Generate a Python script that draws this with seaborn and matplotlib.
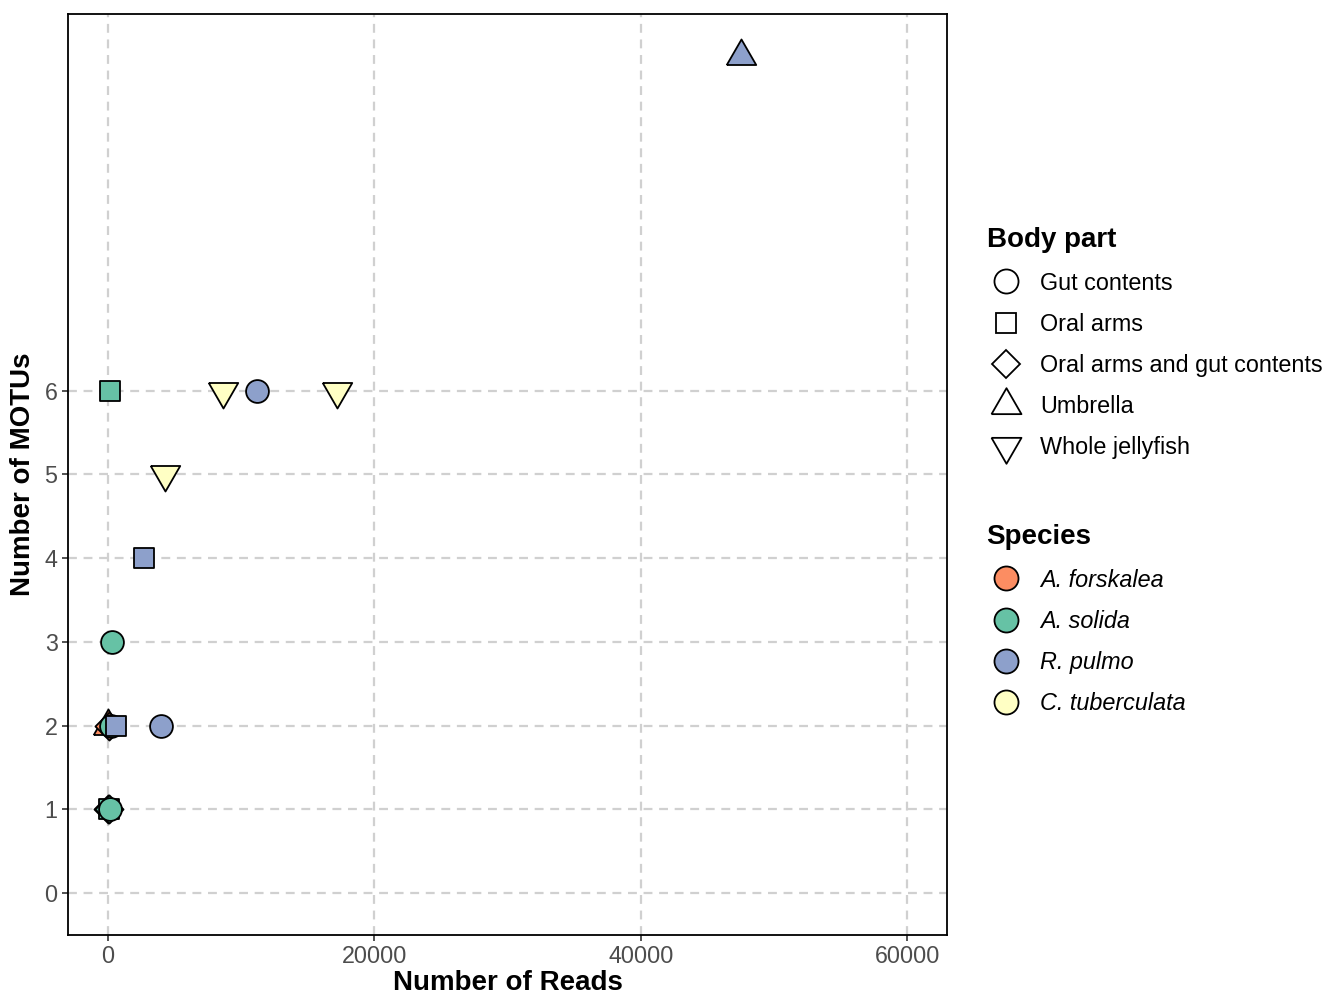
"""
Number of MOTUs against number of reads, by species and body part.
"""

import pandas as pd
import matplotlib.pyplot as plt
import seaborn as sns
from matplotlib.lines import Line2D

species = ["A. forskalea", "A. forskalea", "A. forskalea",
           "A. solida", "A. solida", "A. solida", "A. solida", "A. solida", "A. solida",
           "R. pulmo", "R. pulmo", "R. pulmo", "R. pulmo", "R. pulmo",
           "C. tuberculata", "C. tuberculata", "C. tuberculata"]
body_part = ["Umbrella", "Oral arms and gut contents", "Oral arms and gut contents",
             "Oral arms", "Oral arms and gut contents", "Gut contents", "Gut contents",
             "Gut contents", "Oral arms",
             "Oral arms", "Gut contents", "Oral arms", "Gut contents", "Umbrella",
             "Whole jellyfish", "Whole jellyfish", "Whole jellyfish"]
reads = [20, 60, 0,
         60, 100, 230, 120, 300, 150,
         600, 3950, 2700, 11200, 47500,
         4300, 8600, 17200]
motus = [2, 2, 1,
         1, 1, 2, 1, 3, 6,
         2, 2, 4, 6, 10,
         5, 6, 6]

species_order = ["A. forskalea", "A. solida", "R. pulmo", "C. tuberculata"]
species_colors = ["#FC8D62", "#66C2A5", "#8DA0CB", "#FFFFC4"]
part_order = ["Gut contents", "Oral arms", "Oral arms and gut contents",
              "Umbrella", "Whole jellyfish"]

TRI_UP = [(-0.5, -0.2887), (0.5, -0.2887), (0.0, 0.5774), (-0.5, -0.2887)]
TRI_DOWN = [(-0.5, 0.2887), (0.5, 0.2887), (0.0, -0.5774), (-0.5, 0.2887)]
part_markers = {"Gut contents": "o", "Oral arms": "s",
                "Oral arms and gut contents": "D",
                "Umbrella": TRI_UP, "Whole jellyfish": TRI_DOWN}
part_sizes = {"Gut contents": 270, "Oral arms": 195,
              "Oral arms and gut contents": 205,
              "Umbrella": 600, "Whole jellyfish": 600}
legend_sizes = {"Gut contents": 300, "Oral arms": 200,
                "Oral arms and gut contents": 215,
                "Umbrella": 620, "Whole jellyfish": 620}


def scatter_plot(df):
    """
    Scatter of reads vs MOTUs, shape by body part, fill by species.
    """
    sns.set_theme(style="white")
    plt.rcParams["font.family"] = ["Liberation Sans", "DejaVu Sans"]

    fig = plt.figure(figsize=(13.26, 9.97), dpi=100)
    ax = fig.add_axes([0.0513, 0.0622, 0.6629, 0.9238])

    palette = dict(zip(species_order, species_colors))

    # draw row by row so overlap order follows the data
    for i, row in df.iterrows():
        sns.scatterplot(
            data=df.iloc[[i]],
            x="reads",
            y="motus",
            hue="species",
            palette=palette,
            marker=part_markers[row["body_part"]],
            s=part_sizes[row["body_part"]],
            edgecolor="black",
            linewidth=1.3,
            legend=False,
            zorder=3,
            ax=ax
        )

    ax.set_xlim(-3000, 63000)
    ax.set_ylim(-0.5, 10.5)
    ax.set_xticks([0, 20000, 40000, 60000])
    ax.set_yticks([0, 1, 2, 3, 4, 5, 6])
    ax.grid(True, linestyle=(0, (4, 3)), color="#D0D0D0", linewidth=1.6)
    ax.set_axisbelow(True)

    for spine in ax.spines.values():
        spine.set_color("black")
        spine.set_linewidth(1.3)

    ax.tick_params(axis="both", labelsize=16.8, labelcolor="#4D4D4D",
                   color="#333333", length=4, width=1.2, direction="out",
                   bottom=True, left=True)

    ax.set_xlabel("Number of Reads", fontsize=20, fontweight="bold",
                  color="black", labelpad=1.5)
    ax.set_ylabel("Number of MOTUs", fontsize=20, fontweight="bold",
                  color="black", labelpad=6)

    shape_handles = [
        Line2D([], [], linestyle="none", marker=part_markers[p],
               markersize=(legend_sizes[p] ** 0.5), markerfacecolor="white",
               markeredgecolor="black", markeredgewidth=1.3, label=p)
        for p in part_order
    ]
    color_handles = [
        Line2D([], [], linestyle="none", marker="o", markersize=17.3,
               markerfacecolor=c, markeredgecolor="black",
               markeredgewidth=1.3, label=s)
        for s, c in zip(species_order, species_colors)
    ]

    for handles, title, top in [(shape_handles, "Body part", 0.772),
                                (color_handles, "Species", 0.474)]:
        leg = fig.legend(
            handles=handles, title=title,
            loc="upper left", bbox_to_anchor=(0.744, top),
            frameon=False, fontsize=16.8, title_fontsize=20,
            alignment="left", handletextpad=0.65, labelspacing=0.78,
            borderaxespad=0, borderpad=0, handlelength=1.66
        )
        leg.get_title().set_fontweight("bold")
        leg.get_title().set_color("black")
        for t in leg.get_texts():
            t.set_color("black")
            if title == "Species":
                t.set_fontstyle("italic")

    fig.savefig("out.png", dpi=100)


if __name__ == "__main__":

    df = pd.DataFrame({
        "species": species,
        "body_part": body_part,
        "reads": reads,
        "motus": motus,
    })

    scatter_plot(df)
